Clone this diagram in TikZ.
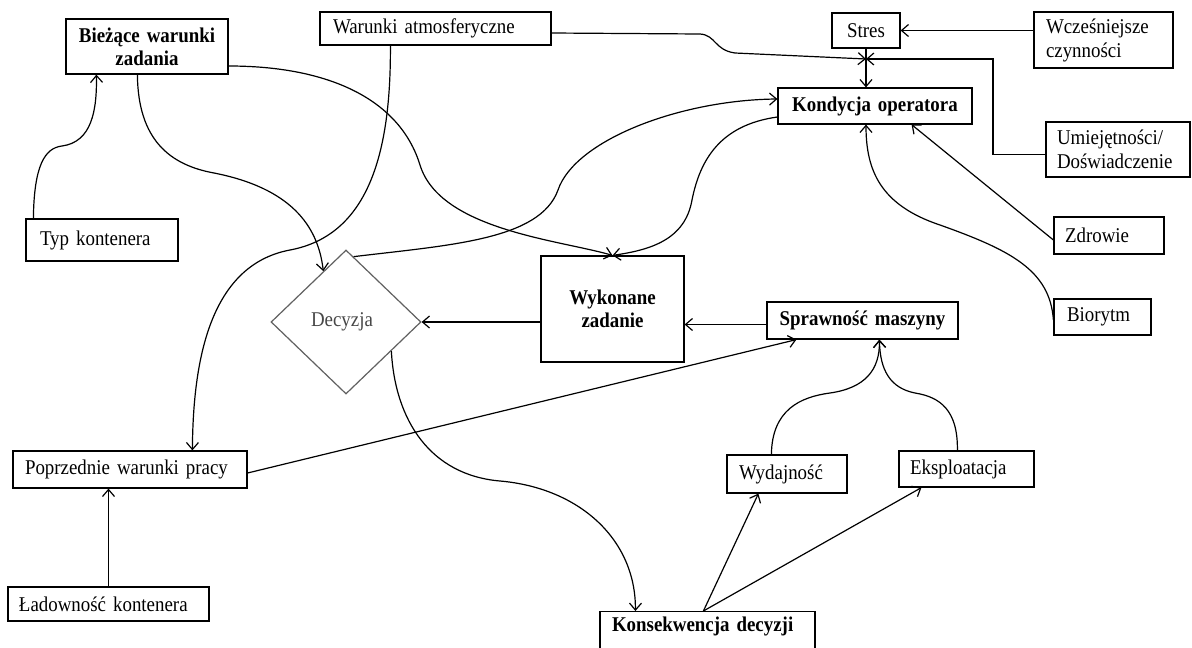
\documentclass[tikz,border=0pt]{standalone}
\usepackage{fontspec}
\setmainfont{Liberation Serif}[FakeStretch=0.9]
\usetikzlibrary{arrows.meta,calc,shapes.geometric}
\colorlet{dgray}{black!62}
\colorlet{tgray}{black!72}
\begin{document}
\begin{tikzpicture}[x=1pt,y=-1pt,
 box/.style={draw, line width=1.2pt, inner ysep=0pt, font=\fontsize{21}{24}\selectfont},
 bbox/.style={box, font=\fontsize{21}{23}\selectfont\bfseries},
 arr/.style={line width=1.2pt, -{Straight Barb[length=7pt,width=12pt]}}]
\useasboundingbox (0,0) rectangle (1192,648);
\fill[white] (0,0) rectangle (1192,648);
\clip (0,0) rectangle (1192,648);

% boxes
\node[bbox, minimum height=55pt, inner xsep=4pt, text width=154pt, align=center] (biez) at (147,46.5) {Bieżące warunki\\zadania};
\node[box, minimum height=33pt, inner xsep=13pt, text width=205pt, align=left] (watm) at (435.5,28.5) {Warunki atmosferyczne};
\node[box, minimum height=35pt, inner xsep=4pt, text width=60pt, align=center] (stres) at (866,30.5) {Stres};
\node[box, minimum height=56pt, inner xsep=12pt, text width=115pt, align=left] (wcz) at (1103.5,40) {Wcześniejsze\\czynności};
\node[bbox, minimum height=36pt, inner xsep=4pt, text width=186pt, align=center] (kond) at (875,106) {Kondycja operatora};
\node[box, minimum height=55pt, inner xsep=11pt, text width=122pt, align=left] (umiej) at (1118,149.5) {Umiejętności/\\Doświadczenie};
\node[box, minimum height=42pt, inner xsep=14pt, text width=124pt, align=left] (typ) at (102,240) {Typ kontenera};
\node[box, minimum height=37pt, inner xsep=11pt, text width=88pt, align=left] (zdr) at (1109,235.5) {Zdrowie};
\node[diamond, draw=dgray, text=tgray, line width=1.2pt, minimum width=150pt, minimum height=144pt, inner sep=0pt, font=\fontsize{21}{24}\selectfont] (dec) at (346,322) {\raisebox{4pt}{Decyzja}\hspace*{8pt}};
\node[bbox, minimum height=106pt, inner xsep=4pt, text width=135pt, align=center] (wyk) at (612.5,309) {Wykonane\\zadanie};
\node[bbox, minimum height=37pt, inner xsep=4pt, text width=183pt, align=center] (spraw) at (862.5,320.5) {Sprawność maszyny};
\node[box, minimum height=36pt, inner xsep=13pt, text width=71pt, align=left] (bior) at (1102.5,317) {Biorytm};
\node[box, minimum height=37pt, inner xsep=12pt, text width=210pt, align=left] (popr) at (130,469.5) {Poprzednie warunki pracy};
\node[box, minimum height=38pt, inner xsep=12pt, text width=96pt, align=left] (wyd) at (787,474) {Wydajność};
\node[box, minimum height=36pt, inner xsep=11pt, text width=113pt, align=left] (eksp) at (966.5,469) {Eksploatacja};
\node[box, minimum height=34pt, inner xsep=11pt, text width=179pt, align=left] (lad) at (108.5,604) {Ładowność kontenera};
\node[bbox, anchor=north, inner xsep=12pt, inner ysep=4pt, text width=191pt, align=left, text height=16pt, text depth=30pt] (kons) at (707.5,611) {Konsekwencja decyzji};

\coordinate (J) at (866,59);

% connectors
\draw[arr] ($(typ.north west)+(8,0)$) .. controls (34,165) and (45,148) .. (62,146) .. controls (92,142) and (97,110) .. ($(biez.south west)+(31,0)$);
\draw[arr] ($(biez.south west)+(72,0)$) .. controls (138,140) and (170,165) .. (214,173) .. controls (290,188) and (318,225) .. ($(dec.north)!0.3!(dec.west)$);
\draw[arr] ($(biez.east)+(0,19.5)$) .. controls (330,66) and (400,100) .. (420,165) .. controls (440,230) and (560,240) .. (wyk.north);
\draw[arr] ($(watm.south west)+(71,0)$) .. controls (391,150) and (370,235) .. (290,250) .. controls (210,265) and (193,360) .. ($(popr.north west)+(180,0)$);
\draw[arr] ($(watm.east)+(0,4.5)$) -- (700,34) .. controls (716,35) and (714,50) .. (735,53) -- (J);
\draw[arr] (stres.south) -- (stres.south |- kond.north);
\draw[arr] (wcz.west |- stres.east) -- (stres.east);
\draw[arr] ($(umiej.west)+(0,5)$) -| ($(J)+(127,0)$) -- (J);
\draw[arr] ($(zdr.west)+(0,4.5)$) -- ($(kond.south east)+(-61,0)$);
\draw[arr] ($(bior.west)+(0,3)$) .. controls (1050,270) and (1010,250) .. (940,225) .. controls (880,205) and (866,170) .. (J |- kond.south);
\draw[arr] ($(dec.north)!0.1!(dec.east)$) .. controls (450,245) and (540,240) .. (558,190) .. controls (575,140) and (680,100) .. ($(kond.west)+(0,-7)$);
\draw[arr] ($(kond.west)+(0,11)$) .. controls (720,125) and (700,160) .. (692,200) .. controls (685,240) and (650,250) .. (wyk.north);
\draw[arr] (wyk.west |- dec.east) -- (dec.east);
\draw[arr] ($(spraw.west)+(0,4)$) -- ($(spraw.west -| wyk.east)+(0,4)$);
\draw[arr] ($(popr.east)+(0,3.5)$) -- ($(spraw.south west)+(30,0)$);
\draw[arr] (lad.north) -- (lad.north |- popr.south);
\draw[arr] ($(dec.east)!0.4!(dec.south)$) .. controls (395,420) and (430,475) .. (500,481) .. controls (580,488) and (636,540) .. ($(kons.north west)+(36,0)$);
\draw[arr] ($(kons.north west)+(104,0)$) -- ($(wyd.south west)+(32,0)$);
\draw[arr] ($(kons.north west)+(104,0)$) -- ($(eksp.south west)+(23,0)$);
\draw[arr] ($(wyd.north west)+(45,0)$) .. controls (772,410) and (800,397) .. (830,393) .. controls (865,388) and (880,370) .. ($(spraw.south west)+(113,0)$);
\draw[arr] ($(eksp.north west)+(59,0)$) .. controls (958,410) and (940,397) .. (915,393) .. controls (890,388) and (880,370) .. ($(spraw.south west)+(113,0)$);
\end{tikzpicture}
\end{document}
